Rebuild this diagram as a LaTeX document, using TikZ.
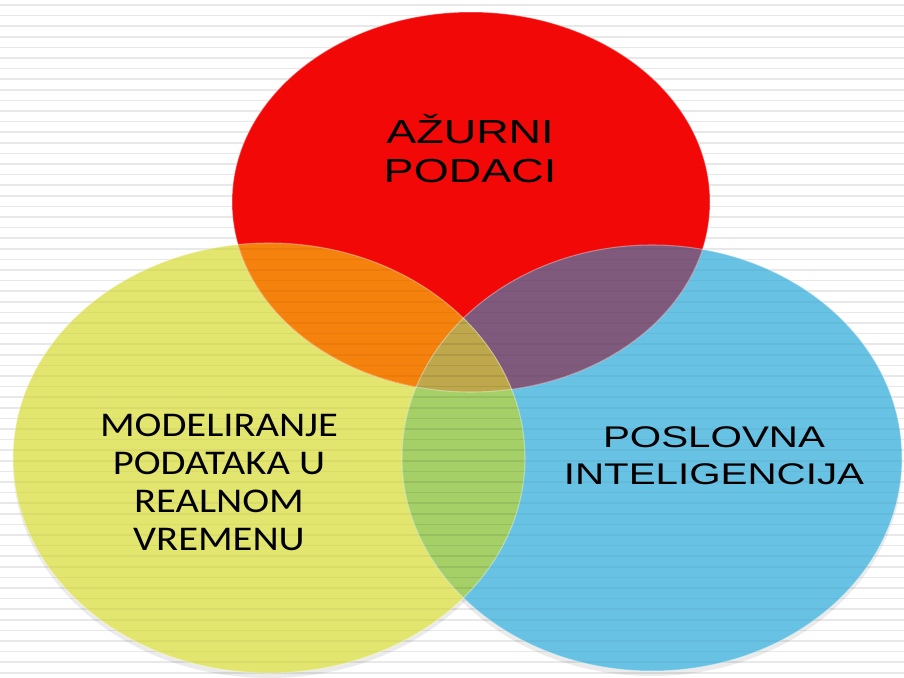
\documentclass[tikz,border=0pt]{standalone}
\usepackage{fontspec}
\usepackage{tikz}
\usetikzlibrary{calc}
\newfontfamily\arialw[FakeStretch=1.35]{Liberation Sans}
\newfontfamily\calw[FakeStretch=1.17]{Carlito}

\definecolor{redc}{RGB}{243,8,8}
\definecolor{yellowc}{RGB}{226,229,110}
\definecolor{bluec}{RGB}{104,194,228}
\definecolor{orangec}{RGB}{245,130,12}
\definecolor{purplec}{RGB}{128,90,124}
\definecolor{olivec}{RGB}{190,168,75}
\definecolor{greenc}{RGB}{165,208,104}
\definecolor{stripec}{RGB}{232,232,232}

\tikzset{
  stripe/.style={stripec,line width=1.3pt},
  shade/.style={fill=black,fill opacity=0.08},
  rim/.style={draw=white,draw opacity=0.35,line width=0.8pt},
  lbl/.style={inner sep=0pt,align=center,text=black}
}

\begin{document}
\begin{tikzpicture}[x=0.75pt,y=0.75pt,yscale=-1,xscale=1]
\useasboundingbox (0,0) rectangle (904,678);

%Background
\fill[white] (0,0) rectangle (904,678);
\foreach \i in {0,...,63}
  \draw[stripe] (0,5+10.6*\i) -- (904,5+10.6*\i);

%Shadows
\fill[shade] (269,463) ellipse [x radius=256,y radius=215];
\fill[shade] (652,463) ellipse [x radius=250,y radius=213];

%Shape: Ellipse (yellow)
\fill[yellowc] (269,458) ellipse [x radius=256,y radius=215];
%Shape: Ellipse (blue)
\fill[bluec] (652,458) ellipse [x radius=250,y radius=213];
%Shape: Ellipse (red)
\fill[redc] (471,202) ellipse [x radius=239,y radius=190];

%Overlaps
\begin{scope}
\clip (471,202) ellipse [x radius=239,y radius=190];
\fill[orangec] (269,458) ellipse [x radius=256,y radius=215];
\fill[purplec] (652,458) ellipse [x radius=250,y radius=213];
\end{scope}
\begin{scope}
\clip (269,458) ellipse [x radius=256,y radius=215];
\fill[greenc] (652,458) ellipse [x radius=250,y radius=213];
\clip (471,202) ellipse [x radius=239,y radius=190];
\fill[olivec] (652,458) ellipse [x radius=250,y radius=213];
\end{scope}

%Stripes showing through
\begin{scope}
\clip (269,458) ellipse [x radius=256,y radius=215];
\foreach \i in {23,...,63}
  \draw[black,opacity=0.04,line width=1.3pt] (0,5+10.6*\i) -- (904,5+10.6*\i);
\end{scope}
\begin{scope}
\clip (652,458) ellipse [x radius=250,y radius=213];
\foreach \i in {23,...,63}
  \draw[black,opacity=0.04,line width=1.3pt] (0,5+10.6*\i) -- (904,5+10.6*\i);
\end{scope}

%Rims
\draw[rim] (269,458) ellipse [x radius=256,y radius=215];
\draw[rim] (652,458) ellipse [x radius=250,y radius=213];
\draw[rim] (471,202) ellipse [x radius=239,y radius=190];

% Text Node
\node[lbl,font={\arialw\fontsize{25}{29.25}\selectfont}] (azurni) at (470,149) {AŽURNI\\PODACI};
% Text Node
\node[lbl,font={\calw\fontsize{26}{28.5}\selectfont}] (model) at (219,482) {MODELIRANJE\\PODATAKA U\\REALNOM\\VREMENU};
% Text Node
\node[lbl,font={\arialw\fontsize{22.4}{27.75}\selectfont}] (poslovna) at (714,456) {POSLOVNA\\INTELIGENCIJA};

\end{tikzpicture}
\end{document}
